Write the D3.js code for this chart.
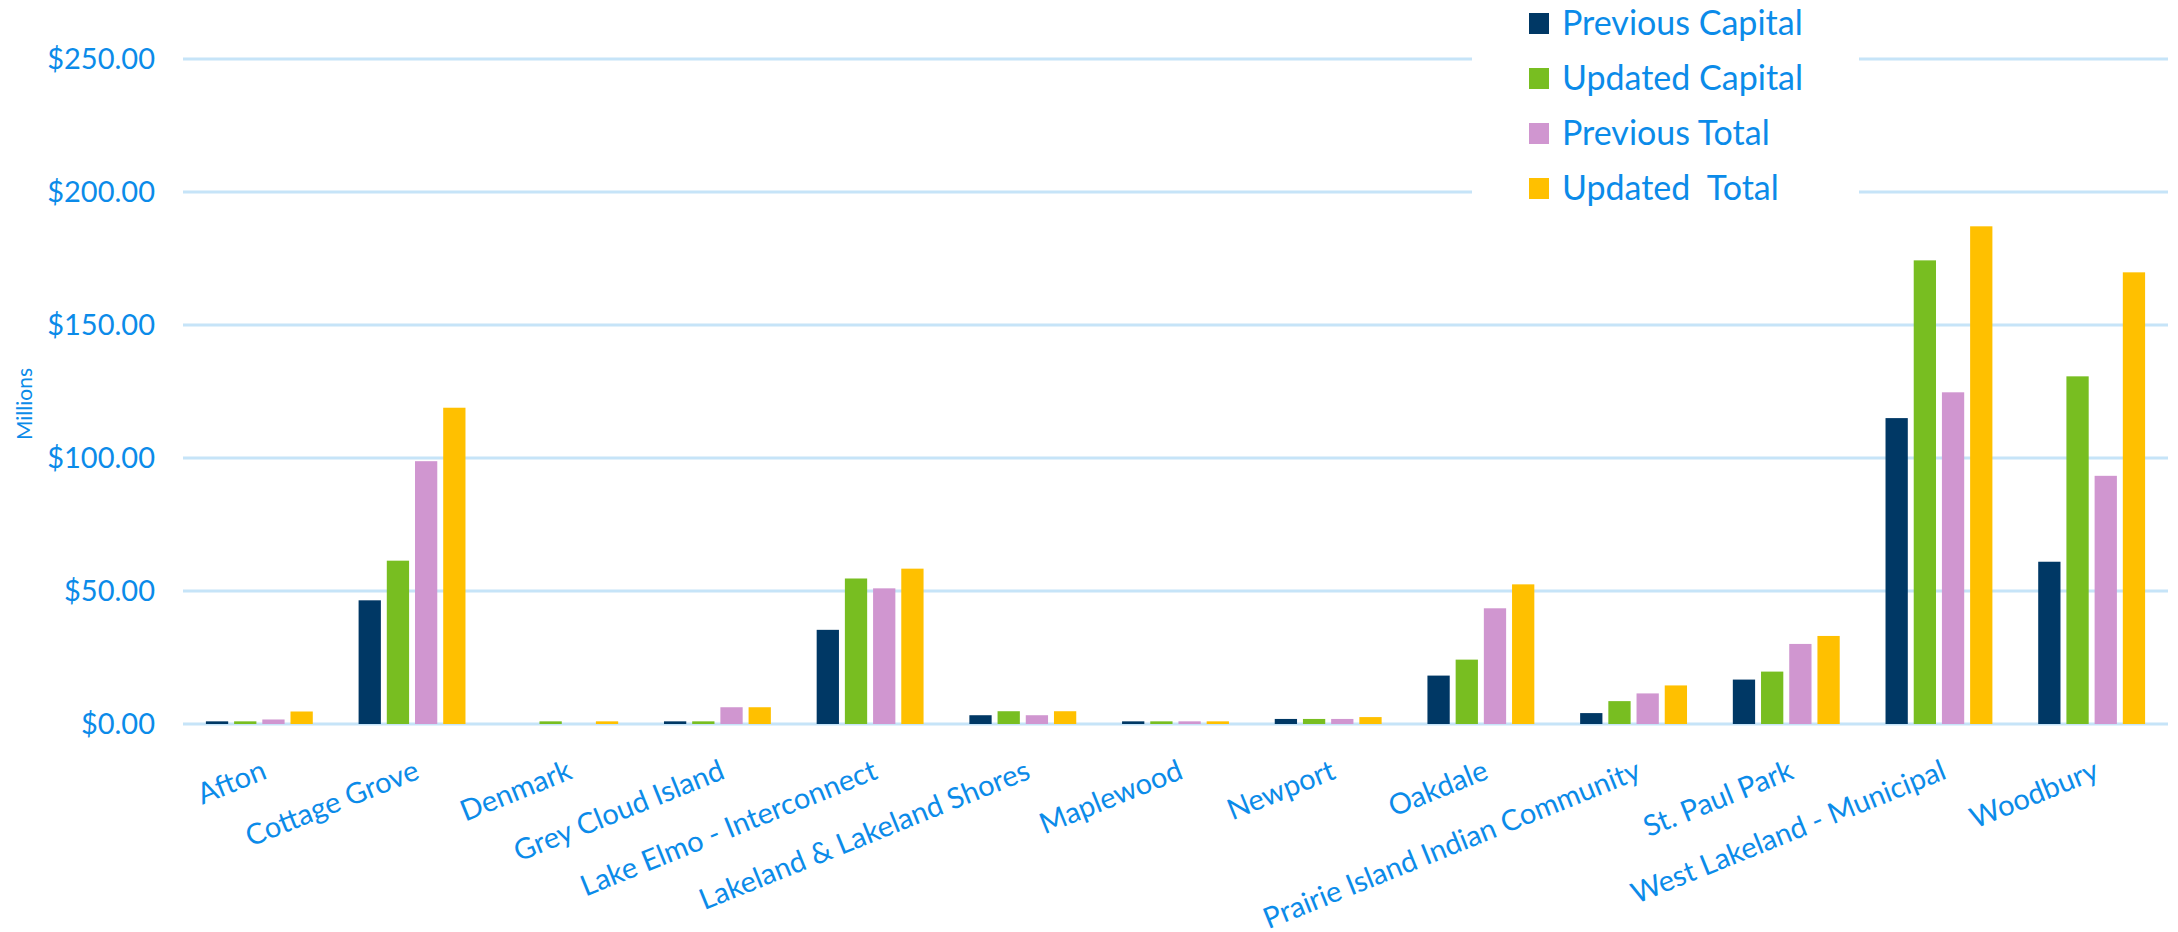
<!DOCTYPE html>
<html>
<head>
<meta charset="utf-8">
<script src="https://cdn.jsdelivr.net/npm/d3@7"></script>
<style>
	body { margin: 0; background: #fff; }
	text { font-family: Lato, "Open Sans", sans-serif; fill: #0b8be9; }
</style>
</head>
<body>
<div id="chart"></div>
<script>

// categories and series
var categories = ["Afton", "Cottage Grove", "Denmark", "Grey Cloud Island", "Lake Elmo - Interconnect",
	"Lakeland & Lakeland Shores", "Maplewood", "Newport", "Oakdale", "Prairie Island Indian Community",
	"St. Paul Park", "West Lakeland - Municipal", "Woodbury"];
var seriesNames = ["Previous Capital", "Updated Capital", "Previous Total", "Updated  Total"];

// values in millions
var previousCapital = [1.0, 46.5, 0, 1.0, 35.4, 3.3, 1.0, 1.9, 18.2, 4.1, 16.7, 115.0, 61.0];
var updatedCapital  = [1.0, 61.4, 1.0, 1.0, 54.7, 4.8, 1.0, 1.9, 24.2, 8.6, 19.7, 174.3, 130.7];
var previousTotal   = [1.7, 98.8, 0, 6.3, 51.0, 3.3, 1.0, 1.9, 43.5, 11.5, 30.1, 124.7, 93.3];
var updatedTotal    = [4.7, 118.9, 1.0, 6.3, 58.4, 4.8, 1.0, 2.6, 52.5, 14.5, 33.1, 187.1, 169.8];

var yTicks = [0, 50, 100, 150, 200, 250];

var seriesValues = [previousCapital, updatedCapital, previousTotal, updatedTotal];
var colors = ["#003865", "#78be21", "#d096d0", "#ffc000"];

// set chart dimensions
var width = 2178;
var height = 932;
var plot = { left: 183, right: 2168, top: 59, bottom: 724 };

// set scales and axes
var x0 = d3.scaleBand()
	.domain(categories)
	.range([plot.left, plot.right])
	.paddingInner(0.3)
	.paddingOuter(0.15);
var x1 = d3.scaleBand()
	.domain(seriesNames)
	.range([0, x0.bandwidth()])
	.paddingInner(0.21);
var y = d3.scaleLinear().domain([0, 250]).range([plot.bottom, plot.top]);

var svg = d3.select("#chart")
  .append("svg")
	.attr("width", width)
	.attr("height", height);

// horizontal gridlines
svg.append("g")
	.attr("class", "grid")
	.selectAll("line")
	.data(yTicks)
	.enter().append("line")
	.attr("x1", plot.left)
	.attr("x2", plot.right)
	.attr("y1", function(d) { return y(d); })
	.attr("y2", function(d) { return y(d); })
	.style("stroke", "#c6e4f8")
	.style("stroke-width", 3);

// y axis labels
var yAxis = d3.axisLeft(y)
	.tickValues(yTicks)
	.tickSize(0)
	.tickPadding(0)
	.tickFormat(function(d) { return "$" + d3.format(",.2f")(d); });

svg.append("g")
	.attr("class", "y axis")
	.attr("transform", "translate(155,0)")
	.call(yAxis)
	.call(function(g) { g.select(".domain").remove(); })
	.selectAll("text")
	.style("font-size", "29px")
	.style("fill", "#0b8be9");

// axis title
svg.append("text")
	.attr("transform", "translate(32,404) rotate(-90)")
	.style("text-anchor", "middle")
	.style("font-size", "21px")
	.text("Millions");

// bars
var groups = svg.append("g")
	.selectAll("g")
	.data(categories)
	.enter().append("g")
	.attr("transform", function(d) { return "translate(" + x0(d) + ",0)"; });

groups.selectAll("rect")
	.data(function(d, i) {
		return seriesNames.map(function(s, k) { return { series: s, k: k, value: seriesValues[k][i] }; });
	})
	.enter().append("rect")
	.attr("x", function(d) { return x1(d.series); })
	.attr("width", x1.bandwidth())
	.attr("y", function(d) { return y(d.value); })
	.attr("height", function(d) { return y(0) - y(d.value); })
	.style("fill", function(d) { return colors[d.k]; });

// x axis labels, rotated
var xAxis = d3.axisBottom(x0).tickSize(0).tickPadding(0);

svg.append("g")
	.attr("class", "x axis")
	.attr("transform", "translate(0," + plot.bottom + ")")
	.call(xAxis)
	.call(function(g) { g.select(".domain").remove(); })
	.selectAll("text")
	.attr("y", 0)
	.attr("dy", 0)
	.attr("transform", "translate(9,54) rotate(-22)")
	.style("text-anchor", "end")
	.style("font-size", "29px")
	.style("fill", "#0b8be9");

// legend with white box over the gridlines
var legend = svg.append("g").attr("class", "legend");

legend.append("rect")
	.attr("x", 1472)
	.attr("y", 0)
	.attr("width", 387)
	.attr("height", 215)
	.style("fill", "#fff");

var items = legend.selectAll(".item")
	.data(seriesNames)
	.enter().append("g")
	.attr("class", "item")
	.attr("transform", function(d, i) { return "translate(1529," + (23 + i * 55) + ")"; });

items.append("rect")
	.attr("x", 0)
	.attr("y", -10)
	.attr("width", 20)
	.attr("height", 21)
	.style("fill", function(d, i) { return colors[i]; });

items.append("text")
	.attr("x", 33)
	.attr("dy", "0.35em")
	.style("font-size", "34px")
	.style("white-space", "pre")
	.text(function(d) { return d; });

</script>
</body>
</html>
